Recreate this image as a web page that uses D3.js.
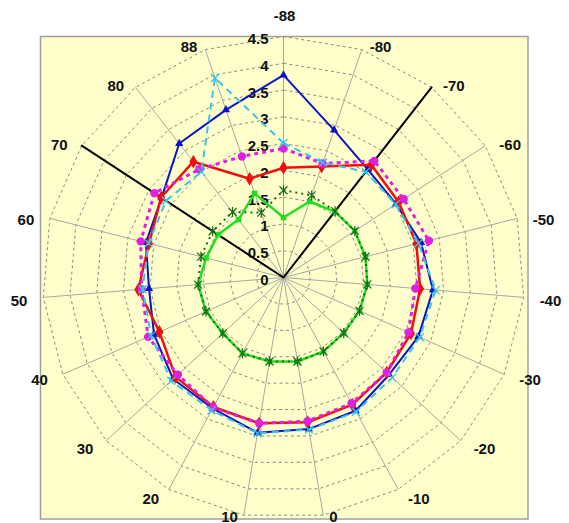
<!DOCTYPE html>
<html>
<head>
<meta charset="utf-8">
<script src="https://cdn.jsdelivr.net/npm/d3@7"></script>
<style>
  html, body { margin: 0; padding: 0; background: #ffffff; }
  svg { display: block; }
  text { font-family: "Liberation Sans", Arial, sans-serif; }
</style>
</head>
<body>
<svg id="chart" width="569" height="523"></svg>
<script>
// Angle categories (degrees), clockwise from the top spoke
const categories = ["-88", "-80", "-70", "-60", "-50", "-40", "-30", "-20", "-10", "0",
                    "10", "20", "30", "40", "50", "60", "70", "80", "88"];
// Radial value ticks
const radialTicks = [0, 0.5, 1, 1.5, 2, 2.5, 3, 3.5, 4, 4.5];

// Series values, one per category
const seriesBlue    = [3.78, 2.91, 2.56, 2.51, 2.65, 2.80, 2.75, 2.68, 2.83, 2.87, 2.94, 2.78, 2.80, 2.64, 2.52, 2.65, 2.72, 3.17, 3.31];
const seriesRed     = [2.05, 2.19, 2.67, 2.57, 2.56, 2.56, 2.60, 2.62, 2.70, 2.74, 2.76, 2.75, 2.74, 2.53, 2.72, 2.59, 2.73, 2.74, 1.95];
const seriesMagenta = [2.41, 2.25, 2.76, 2.68, 2.80, 2.47, 2.55, 2.62, 2.67, 2.72, 2.76, 2.76, 2.68, 2.76, 2.66, 2.75, 2.88, 2.56, 2.39];
const seriesCyan    = [2.51, 2.27, 2.50, 2.50, 2.60, 2.85, 2.78, 2.76, 2.85, 2.88, 2.95, 2.82, 2.85, 2.70, 2.64, 2.60, 2.62, 2.50, 3.94];
const seriesGreen   = [1.12, 1.50, 1.56, 1.59, 1.58, 1.57, 1.55, 1.53, 1.57, 1.59, 1.59, 1.61, 1.54, 1.58, 1.60, 1.49, 1.46, 1.37, 1.66];
const seriesDkGreen = [1.63, 1.62, 1.57, 1.59, 1.58, 1.57, 1.55, 1.53, 1.57, 1.59, 1.59, 1.61, 1.54, 1.58, 1.60, 1.59, 1.58, 1.55, 1.28];
const seriesBlack   = [0, 0, 4.5, 0, 0, 0, 0, 0, 0, 0, 0, 0, 0, 0, 0, 0, 4.5, 0, 0];

const svg = d3.select("#chart");
const cx = 283.5, cy = 277.5, R = 241;
const n = categories.length;

const rScale = d3.scaleLinear().domain([0, 4.5]).range([0, R]);
const aScale = d3.scaleLinear().domain([0, n]).range([0, 2 * Math.PI]);

// plot area
svg.append("rect")
  .attr("x", 40.5).attr("y", 36.5)
  .attr("width", 487.5).attr("height", 482.5)
  .attr("fill", "#ffffcc")
  .attr("stroke", "#a0a0a0")
  .attr("stroke-width", 1.5);

const g = svg.append("g").attr("transform", `translate(${cx},${cy})`);

const pt = (i, v) => {
  const a = aScale(i), r = rScale(v);
  return [r * Math.sin(a), -r * Math.cos(a)];
};

// polygonal grid rings
const ring = d3.lineRadial()
  .angle((d, i) => aScale(i))
  .radius(d => rScale(d))
  .curve(d3.curveLinearClosed);

radialTicks.filter(t => t > 0).forEach(t => {
  g.append("path")
    .attr("d", ring(categories.map(() => t)))
    .attr("fill", "none")
    .attr("stroke", "#8a8a80")
    .attr("stroke-width", 1)
    .attr("stroke-dasharray", "3,3");
});

// spokes
categories.forEach((c, i) => {
  const [x, y] = pt(i, 4.5);
  g.append("line")
    .attr("x1", 0).attr("y1", 0)
    .attr("x2", x).attr("y2", y)
    .attr("stroke", "#a8a8a0")
    .attr("stroke-width", 1);
});

// radial tick labels along the top spoke
g.selectAll("text.rt")
  .data(radialTicks)
  .join("text")
  .attr("class", "rt")
  .attr("x", -15)
  .attr("y", d => -rScale(d) + 2)
  .attr("text-anchor", "end")
  .attr("dominant-baseline", "central")
  .attr("font-size", 15)
  .attr("font-weight", "bold")
  .attr("fill", "#111")
  .text(d => d);

// category labels around the outside
categories.forEach((c, i) => {
  const a = aScale(i);
  const s = Math.sin(a), co = Math.cos(a);
  const [ex, ey] = pt(i, 4.5);
  let x, y, anchor;
  if (i === 0) {
    x = ex + 1; y = ey - 21; anchor = "middle";
  } else {
    const side = s > 0 ? 1 : -1;
    x = ex + side * (4 + 12 * Math.abs(s));
    anchor = s > 0 ? "start" : "end";
    y = ey + 2 - (co > 0 ? 5 : 8) * co;
  }
  // keep the two bottom labels inside the frame
  y = Math.min(y, 523 - cy - 7);
  g.append("text")
    .attr("x", x).attr("y", y)
    .attr("text-anchor", anchor)
    .attr("dominant-baseline", "central")
    .attr("font-size", 15)
    .attr("font-weight", "bold")
    .attr("fill", "#111")
    .text(c);
});

const line = d3.lineRadial()
  .angle((d, i) => aScale(i))
  .radius(d => rScale(d))
  .curve(d3.curveLinearClosed);

function drawSeries(values, color, width, dash, marker) {
  g.append("path")
    .attr("d", line(values))
    .attr("fill", "none")
    .attr("stroke", color)
    .attr("stroke-width", width)
    .attr("stroke-dasharray", dash)
    .attr("stroke-linejoin", "round");
  if (!marker) return;
  values.forEach((v, i) => {
    const [x, y] = pt(i, v);
    marker(g, x, y, color);
  });
}

const triangle = (sel, x, y, c) => sel.append("path")
  .attr("d", d3.symbol(d3.symbolTriangle, 30)())
  .attr("transform", `translate(${x},${y})`).attr("fill", c);
const diamond = (sel, x, y, c) => sel.append("path")
  .attr("d", d3.symbol(d3.symbolDiamond, 55)())
  .attr("transform", `translate(${x},${y})`).attr("fill", c);
const circle = (sel, x, y, c) => sel.append("circle")
  .attr("cx", x).attr("cy", y).attr("r", 4.2).attr("fill", c);
const square = (sel, x, y, c) => sel.append("rect")
  .attr("x", x - 2.8).attr("y", y - 2.8).attr("width", 5.6).attr("height", 5.6).attr("fill", c);
const cross = (sel, x, y, c) => sel.append("path")
  .attr("d", `M${x - 4},${y - 4}L${x + 4},${y + 4}M${x - 4},${y + 4}L${x + 4},${y - 4}`)
  .attr("stroke", c).attr("stroke-width", 1.3).attr("fill", "none");
const asterisk = (sel, x, y, c) => sel.append("path")
  .attr("d", `M${x - 4},${y - 4}L${x + 4},${y + 4}M${x - 4},${y + 4}L${x + 4},${y - 4}M${x},${y - 5}L${x},${y + 5}`)
  .attr("stroke", c).attr("stroke-width", 1.2).attr("fill", "none");

drawSeries(seriesBlack, "#000000", 2, null, null);
drawSeries(seriesBlue, "#0a14c8", 2, null, triangle);
drawSeries(seriesRed, "#ee1010", 2.5, null, diamond);
drawSeries(seriesMagenta, "#e020e0", 3, "4,4", circle);
drawSeries(seriesCyan, "#38c4ea", 2, "7,5", cross);
drawSeries(seriesGreen, "#22dd22", 2.5, null, square);
drawSeries(seriesDkGreen, "#1a6a1a", 2, "2,4", asterisk);
</script>
</body>
</html>
